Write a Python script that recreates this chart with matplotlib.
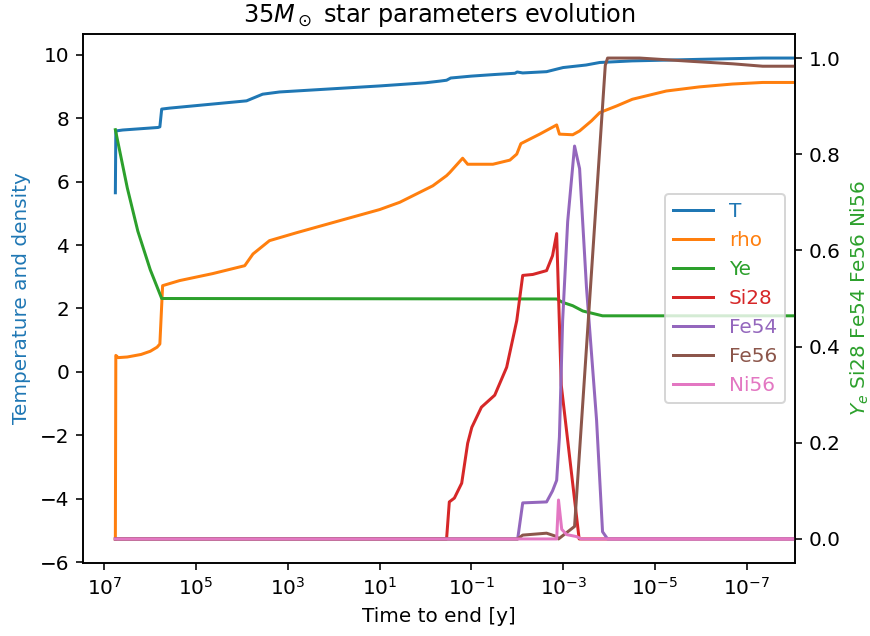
import numpy as np
from matplotlib import pyplot as plt

# time to end of the run [log10 y]; every series ends with a point at t = 0
logt_T = [6.76, 6.75, 6.60, 5.83, 5.79, 5.75, 5.58, 3.90, 3.55, 3.18, 1.0, 0.0,
          -0.30, -0.46, -0.55, -1.0, -1.5, -1.95, -2.0, -2.12, -2.64, -2.86,
          -3.0, -3.5, -3.8, -4.5, -6.0, -7.35]
T = [5.65, 7.60, 7.63, 7.71, 7.73, 8.29, 8.32, 8.55, 8.76, 8.83, 9.02, 9.12,
     9.17, 9.20, 9.27, 9.33, 9.38, 9.42, 9.46, 9.43, 9.47, 9.55,
     9.60, 9.68, 9.76, 9.81, 9.86, 9.90]

logt_rho = [6.76, 6.75, 6.70, 6.50, 6.20, 6.00, 5.85, 5.79, 5.73, 5.36, 4.64, 3.94,
            3.76, 3.40, 2.81, 1.87, 1.0, 0.56, -0.16, -0.46, -0.53, -0.81, -0.92,
            -1.47, -1.84, -1.99, -2.08, -2.49, -2.86, -2.92, -3.21, -3.36, -3.62,
            -3.80, -4.17, -4.51, -5.25, -5.97, -6.69, -7.35]
rho = [-5.27, 0.52, 0.45, 0.47, 0.55, 0.65, 0.78, 0.88, 2.72, 2.88, 3.10, 3.35,
       3.72, 4.14, 4.39, 4.77, 5.12, 5.35, 5.87, 6.19, 6.29, 6.74, 6.55,
       6.55, 6.68, 6.87, 7.20, 7.50, 7.79, 7.50, 7.48, 7.60, 7.92,
       8.18, 8.39, 8.60, 8.86, 8.99, 9.08, 9.13]

logt_Ye = [6.76, 6.5, 6.27, 6.0, 5.75, -2.86, -2.99, -3.21, -3.43, -3.86, -7.35]
Ye = [0.851, 0.73, 0.64, 0.56, 0.500, 0.499, 0.492, 0.485, 0.474, 0.464, 0.464]

logt_Si28 = [6.76, -0.46, -0.52, -0.63, -0.79, -0.92, -1.01, -1.22, -1.51, -1.77,
             -1.99, -2.12, -2.34, -2.64, -2.77, -2.86, -2.96, -3.35, -7.35]
Si28 = [0.0, 0.0, 0.077, 0.085, 0.116, 0.199, 0.232, 0.274, 0.299, 0.357,
        0.454, 0.548, 0.550, 0.558, 0.589, 0.635, 0.320, 0.0, 0.0]

logt_Fe54 = [6.76, -2.01, -2.12, -2.64, -2.77, -2.86, -2.92, -2.99, -3.10, -3.25,
             -3.36, -3.51, -3.73, -3.86, -3.97, -7.35]
Fe54 = [0.0, 0.0, 0.075, 0.077, 0.100, 0.122, 0.212, 0.454, 0.660, 0.817,
        0.770, 0.523, 0.247, 0.015, 0.0, 0.0]

logt_Fe56 = [6.76, -2.01, -2.12, -2.64, -2.86, -2.90, -3.25, -3.92, -3.97, -4.67,
             -5.82, -6.70, -7.35]
Fe56 = [0.0, 0.0, 0.008, 0.012, 0.005, 0.0, 0.026, 0.985, 1.0, 1.0,
        0.993, 0.988, 0.983]

logt_Ni56 = [6.76, -2.86, -2.90, -2.97, -3.08, -3.29, -3.40, -7.35]
Ni56 = [0.0, 0.0, 0.081, 0.020, 0.009, 0.005, 0.0, 0.0]


def years(logt):
    """log10 time to end -> years, closing the series at t = 0"""
    return np.append(10.0 ** np.asarray(logt), 0.0)


def closed(vals):
    return np.append(vals, vals[-1])


fig = plt.figure(figsize=(870 / 144, 636 / 144), dpi=144)
fig.subplots_adjust(left=83 / 870, right=795 / 870, bottom=1 - 563 / 636, top=1 - 34 / 636)
ax1 = fig.add_subplot(111)
ax2 = ax1.twinx()

l1, = ax1.plot(years(logt_T), closed(T), color='C0', label='T')
l2, = ax1.plot(years(logt_rho), closed(rho), color='C1', label='rho')
l3, = ax2.plot(years(logt_Ye), closed(Ye), color='C2', label='Ye')
l4, = ax2.plot(years(logt_Si28), closed(Si28), color='C3', label='Si28')
l5, = ax2.plot(years(logt_Fe54), closed(Fe54), color='C4', label='Fe54')
l6, = ax2.plot(years(logt_Fe56), closed(Fe56), color='C5', label='Fe56')
l7, = ax2.plot(years(logt_Ni56), closed(Ni56), color='C6', label='Ni56')

ax1.set_xscale('log')
ax1.invert_xaxis()
ax1.xaxis.set_minor_locator(plt.NullLocator())
ax1.set_xlabel('Time to end [y]')
ax1.set_ylabel('Temperature and density', color='C0')
ax2.set_ylabel('$Y_e$ Si28 Fe54 Fe56 Ni56', color='C2')
ax1.set_title(r'$35M_\odot$ star parameters evolution')

lines = [l1, l2, l3, l4, l5, l6, l7]
leg = ax2.legend(lines, [l.get_label() for l in lines], loc='center right')
for text, line in zip(leg.get_texts(), leg.get_lines()):
    text.set_color(line.get_color())

fig.savefig('out.png', dpi=144)
